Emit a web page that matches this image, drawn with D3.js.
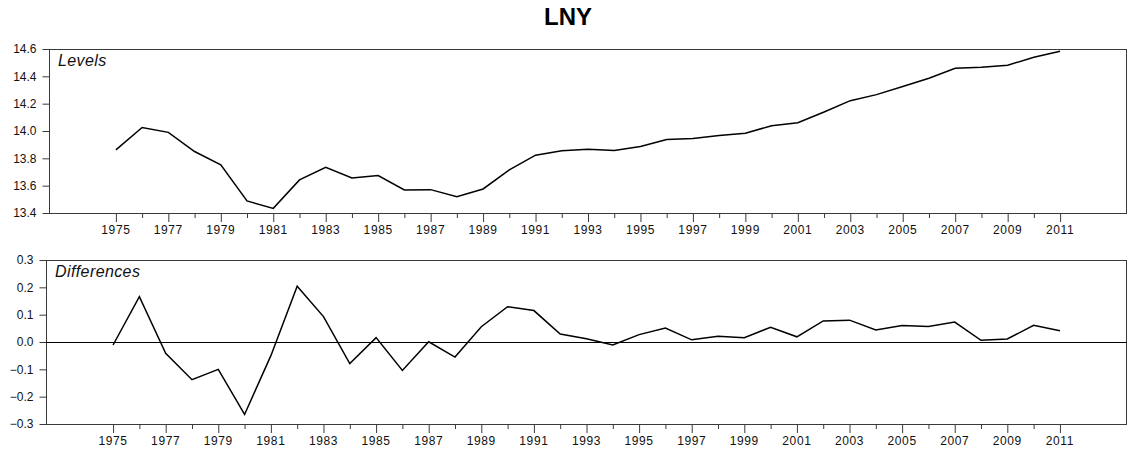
<!DOCTYPE html>
<html>
<head>
<meta charset="utf-8">
<script src="https://cdn.jsdelivr.net/npm/d3@7"></script>
<style>
  html, body { margin: 0; padding: 0; background: #fff; }
  svg { display: block; font-family: "Liberation Sans", Arial, sans-serif; }
</style>
</head>
<body>
<svg id="chart" width="1128" height="451"></svg>
<script>
// LNY series, 1975-2011
const years = d3.range(1975, 2012);
const levels = [
  13.862, 14.026, 13.990, 13.850, 13.752, 13.488, 13.434, 13.642, 13.735, 13.657,
  13.674, 13.569, 13.571, 13.520, 13.576, 13.716, 13.823, 13.855, 13.867, 13.857,
  13.887, 13.938, 13.945, 13.967, 13.984, 14.039, 14.061, 14.139, 14.222, 14.266,
  14.325, 14.386, 14.459, 14.466, 14.481, 14.540, 14.584
];
const differences = [
  -0.011, 0.166, -0.041, -0.138, -0.100, -0.265, -0.050, 0.204, 0.093, -0.079,
  0.016, -0.104, 0.001, -0.055, 0.056, 0.129, 0.115, 0.029, 0.012, -0.011,
  0.027, 0.051, 0.008, 0.021, 0.016, 0.054, 0.019, 0.077, 0.080, 0.044,
  0.060, 0.057, 0.073, 0.006, 0.011, 0.061, 0.041
];
const levelTicks = [13.4, 13.6, 13.8, 14.0, 14.2, 14.4, 14.6];
const diffTicks = [-0.3, -0.2, -0.1, 0.0, 0.1, 0.2, 0.3];
const yearLabels = years.filter(y => y % 2 === 1);

const title = "LNY";
const svg = d3.select("#chart");

svg.append("text")
  .attr("x", 568).attr("y", 25)
  .attr("text-anchor", "middle")
  .style("font-size", "24px").style("font-weight", "bold")
  .text(title);

function panel(cfg) {
  const g = svg.append("g");
  const x = d3.scaleLinear().domain([1972.45, 2013.55]).range([cfg.left, cfg.right]);
  const y = d3.scaleLinear().domain(cfg.domain).range([cfg.bottom, cfg.top]);

  // frame
  g.append("rect")
    .attr("x", cfg.left + 0.5).attr("y", cfg.top + 0.5)
    .attr("width", cfg.right - cfg.left - 1).attr("height", cfg.bottom - cfg.top)
    .attr("fill", "none").attr("stroke", "#3a3a3a").attr("stroke-width", 1);

  // y axis
  const yAxis = d3.axisLeft(y).tickValues(cfg.ticks).tickSize(7).tickPadding(6)
    .tickFormat(d3.format(".1f"));
  const ya = g.append("g").attr("transform", `translate(${cfg.left + 0.5},0)`).call(yAxis);
  ya.select(".domain").remove();
  ya.selectAll("line").attr("stroke", "#3a3a3a");
  ya.selectAll("text").style("font-size", "12px").attr("fill", "#111");

  // x axis: a tick every year, labels on odd years
  const xAxis = d3.axisBottom(x).tickValues(years)
    .tickSize(0).tickPadding(0).tickFormat("");
  const xa = g.append("g").attr("transform", `translate(0,${cfg.bottom + 0.5})`).call(xAxis);
  xa.select(".domain").remove();
  xa.selectAll(".tick line")
    .attr("y2", d => (d % 2 === 1 ? 8.5 : 4.5))
    .attr("stroke", "#3a3a3a");
  g.selectAll("text.year").data(yearLabels).join("text")
    .attr("class", "year")
    .attr("x", d => x(d)).attr("y", cfg.bottom + 20.5)
    .attr("text-anchor", "middle")
    .style("font-size", "12px").style("letter-spacing", "0.6px")
    .attr("fill", "#111")
    .text(d => d);

  // zero reference line
  if (cfg.zero) {
    g.append("line")
      .attr("x1", cfg.left).attr("x2", cfg.right)
      .attr("y1", Math.round(y(0)) + 0.5).attr("y2", Math.round(y(0)) + 0.5)
      .attr("stroke", "#000").attr("stroke-width", 1.2);
  }

  // series
  g.append("path")
    .datum(cfg.values)
    .attr("fill", "none").attr("stroke", "#000").attr("stroke-width", 1.5)
    .attr("stroke-linejoin", "miter")
    .attr("d", d3.line().x((d, i) => x(years[i])).y(d => y(d)));

  // panel caption
  g.append("text")
    .attr("x", cfg.left + 9).attr("y", cfg.top + 17)
    .style("font-size", "16px").style("font-style", "italic")
    .style("letter-spacing", "0.4px")
    .attr("fill", "#111")
    .text(cfg.caption);
}

panel({ left: 49, right: 1127, top: 49, bottom: 213, domain: [13.4, 14.6],
        ticks: levelTicks, values: levels, caption: "Levels", zero: false });
panel({ left: 46, right: 1127, top: 260, bottom: 424, domain: [-0.3, 0.3],
        ticks: diffTicks, values: differences, caption: "Differences", zero: true });
</script>
</body>
</html>
